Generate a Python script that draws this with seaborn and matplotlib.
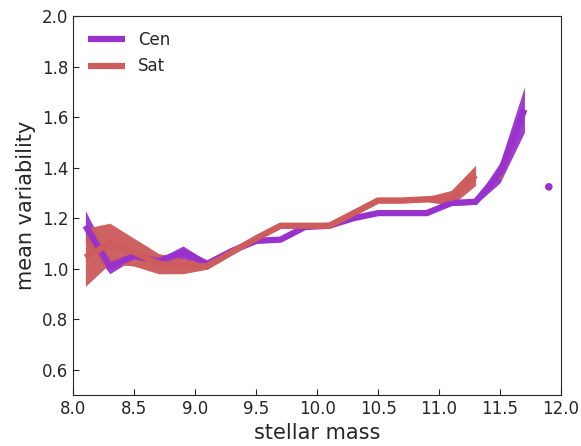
import numpy as np
import pandas as pd
import matplotlib
matplotlib.use("Agg")
import matplotlib.pyplot as plt
import seaborn as sns

cen_x = [8.1, 8.3, 8.5, 8.7, 8.9, 9.1, 9.3, 9.5, 9.7, 9.9, 10.1, 10.3, 10.5, 10.7, 10.9, 11.1, 11.3, 11.5, 11.7]
cen_y = [1.17, 1.01, 1.05, 1.03, 1.065, 1.02, 1.07, 1.11, 1.115, 1.165, 1.17, 1.20, 1.22, 1.22, 1.22, 1.26, 1.265, 1.38, 1.63]
cen_err = [0.06, 0.03, 0.01, 0.01, 0.025, 0.01, 0.005, 0.005, 0.005, 0.005, 0.005, 0.005, 0.005, 0.005, 0.005, 0.01, 0.01, 0.04, 0.09]

sat_x = [8.1, 8.3, 8.5, 8.7, 8.9, 9.1, 9.3, 9.5, 9.7, 9.9, 10.1, 10.3, 10.5, 10.7, 10.9, 11.1, 11.3]
sat_y = [1.045, 1.10, 1.065, 1.02, 1.01, 1.01, 1.065, 1.12, 1.17, 1.17, 1.17, 1.22, 1.27, 1.27, 1.275, 1.28, 1.37]
sat_err = [0.115, 0.08, 0.055, 0.04, 0.03, 0.012, 0.01, 0.01, 0.01, 0.01, 0.01, 0.01, 0.01, 0.01, 0.01, 0.03, 0.04]

cen_pt = (11.9, 1.324)
sat_pt = (11.5, 1.37)

cen_color = "#9932CC"
sat_color = "#CD5C5C"

sns.set_style("ticks", {"xtick.direction": "in", "ytick.direction": "in",
                        "axes.edgecolor": ".15"})

fig = plt.figure(figsize=(5.81, 4.46), dpi=100)
ax = fig.add_axes([0.126, 0.1143, 0.8396, 0.8497])

df = pd.concat([
    pd.DataFrame({"x": cen_x, "y": cen_y, "group": "Cen"}),
    pd.DataFrame({"x": sat_x, "y": sat_y, "group": "Sat"}),
])

# Cen
ax.fill_between(cen_x, np.array(cen_y) - np.array(cen_err), np.array(cen_y) + np.array(cen_err),
                color=cen_color, alpha=0.95, lw=0)
sns.lineplot(data=df[df.group == "Cen"], x="x", y="y", color=cen_color, lw=4.5,
             label="Cen", ax=ax, solid_joinstyle="miter", solid_capstyle="butt")
# Sat
ax.fill_between(sat_x, np.array(sat_y) - np.array(sat_err), np.array(sat_y) + np.array(sat_err),
                color=sat_color, alpha=0.97, lw=0)
sns.lineplot(data=df[df.group == "Sat"], x="x", y="y", color=sat_color, lw=4.5,
             label="Sat", ax=ax, solid_joinstyle="miter", solid_capstyle="butt")

sns.scatterplot(x=[sat_pt[0]], y=[sat_pt[1]], color=sat_color, s=30, edgecolor="none", ax=ax)
sns.scatterplot(x=[cen_pt[0]], y=[cen_pt[1]], color=cen_color, s=30, edgecolor="none", ax=ax)

ax.set_xlim(8.0, 12.0)
ax.set_ylim(0.5, 2.0)
ax.set_xticks(np.arange(8.0, 12.01, 0.5))
ax.set_yticks(np.arange(0.6, 2.01, 0.2))
ax.set_xticklabels([f"{v:.1f}" for v in np.arange(8.0, 12.01, 0.5)])
ax.set_yticklabels([f"{v:.1f}" for v in np.arange(0.6, 2.01, 0.2)])
ax.tick_params(labelsize=12, colors=".15", length=4)
ax.set_xlabel("stellar mass", fontsize=15, color=".15")
ax.set_ylabel("mean variability", fontsize=15, color=".15")

leg = ax.legend(loc="upper left", frameon=False, fontsize=12, handlelength=2.2)
for l in leg.get_lines():
    l.set_linewidth(4.5)
    l.set_solid_capstyle("butt")

fig.savefig("out.png", dpi=100)
